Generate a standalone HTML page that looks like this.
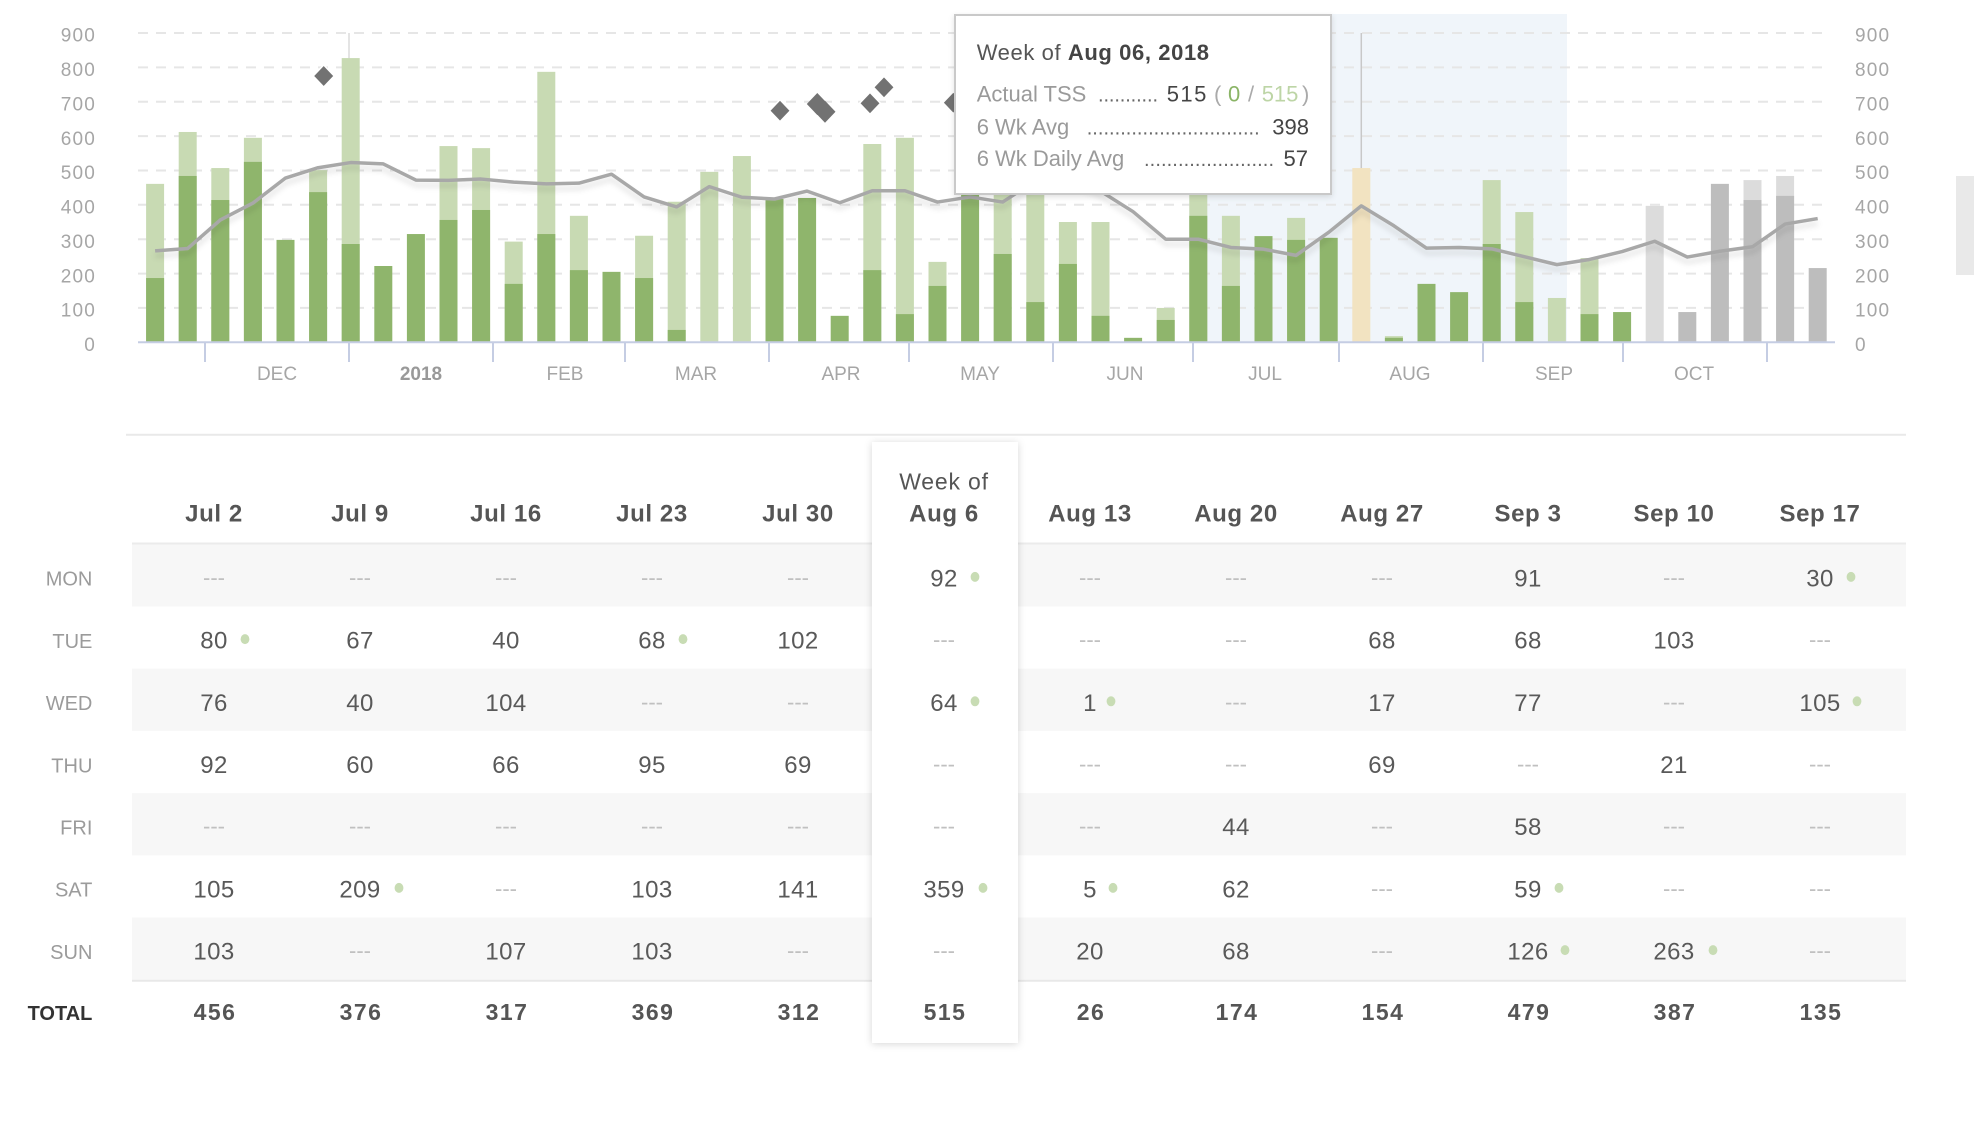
<!DOCTYPE html>
<html><head><meta charset="utf-8"><style>
html,body{margin:0;padding:0;background:#fff;}
svg{display:block;font-family:"Liberation Sans",sans-serif;}
</style></head><body>
<svg width="1974" height="1146" viewBox="0 0 1974 1146" xmlns="http://www.w3.org/2000/svg">
<defs>
<filter id="lsh" x="-5%" y="-50%" width="110%" height="200%"><feDropShadow dx="0" dy="5" stdDeviation="3" flood-color="#000" flood-opacity="0.12"/></filter>
<filter id="tsh" x="-10%" y="-10%" width="120%" height="130%"><feDropShadow dx="0" dy="2" stdDeviation="3" flood-color="#000" flood-opacity="0.12"/></filter>
<filter id="csh" x="-20%" y="-5%" width="140%" height="110%"><feDropShadow dx="0" dy="1" stdDeviation="4" flood-color="#000" flood-opacity="0.16"/></filter>
</defs>

<!-- shaded range -->
<rect x="1189" y="14" width="378" height="328.3" fill="#f0f5fa"/>

<!-- gridlines -->
<g stroke="#e6e6e6" stroke-width="2" stroke-dasharray="10 8">
<line x1="138" x2="1829" y1="307.9" y2="307.9"/>
<line x1="138" x2="1829" y1="273.6" y2="273.6"/>
<line x1="138" x2="1829" y1="239.2" y2="239.2"/>
<line x1="138" x2="1829" y1="204.8" y2="204.8"/>
<line x1="138" x2="1829" y1="170.5" y2="170.5"/>
<line x1="138" x2="1829" y1="136.1" y2="136.1"/>
<line x1="138" x2="1829" y1="101.7" y2="101.7"/>
<line x1="138" x2="1829" y1="67.4" y2="67.4"/>
<line x1="138" x2="1829" y1="33" y2="33"/>
</g>

<!-- year line & hover line -->
<line x1="349" x2="349" y1="33" y2="342" stroke="#dcdcdc" stroke-width="1.5"/>
<line x1="1361.3" x2="1361.3" y1="33" y2="170" stroke="#c8c8c8" stroke-width="1.5"/>

<!-- bars -->
<g transform="matrix(1 0 0 -0.34367 0 342.3)">
<g fill="#c8dab3">
<rect x="146.1" y="0" width="18" height="461"/>
<rect x="178.7" y="0" width="18" height="612"/>
<rect x="211.3" y="0" width="18" height="507"/>
<rect x="243.9" y="0" width="18" height="595"/>
<rect x="309.1" y="0" width="18" height="501"/>
<rect x="341.7" y="0" width="18" height="827"/>
<rect x="439.5" y="0" width="18" height="571"/>
<rect x="472.1" y="0" width="18" height="565"/>
<rect x="504.7" y="0" width="18" height="293"/>
<rect x="537.3" y="0" width="18" height="787"/>
<rect x="569.9" y="0" width="18" height="368"/>
<rect x="635.1" y="0" width="18" height="310"/>
<rect x="667.7" y="0" width="18" height="409"/>
<rect x="700.3" y="0" width="18" height="496"/>
<rect x="732.9" y="0" width="18" height="542"/>
<rect x="863.3" y="0" width="18" height="577"/>
<rect x="895.9" y="0" width="18" height="595"/>
<rect x="928.5" y="0" width="18" height="234"/>
<rect x="993.7" y="0" width="18" height="470"/>
<rect x="1026.3" y="0" width="18" height="490"/>
<rect x="1058.9" y="0" width="18" height="350"/>
<rect x="1091.5" y="0" width="18" height="350"/>
<rect x="1156.7" y="0" width="18" height="100"/>
<rect x="1189.3" y="0" width="18" height="450"/>
<rect x="1221.9" y="0" width="18" height="368"/>
<rect x="1287.1" y="0" width="18" height="362"/>
<rect x="1384.9" y="0" width="18" height="18"/>
<rect x="1482.7" y="0" width="18" height="472"/>
<rect x="1515.3" y="0" width="18" height="379"/>
<rect x="1547.9" y="0" width="18" height="129"/>
<rect x="1580.5" y="0" width="18" height="245"/>
</g>
<g fill="#8fb56c">
<rect x="146.1" y="0" width="18" height="187"/>
<rect x="178.7" y="0" width="18" height="484"/>
<rect x="211.3" y="0" width="18" height="414"/>
<rect x="243.9" y="0" width="18" height="525"/>
<rect x="276.5" y="0" width="18" height="298"/>
<rect x="309.1" y="0" width="18" height="437"/>
<rect x="341.7" y="0" width="18" height="286"/>
<rect x="374.3" y="0" width="18" height="222"/>
<rect x="406.9" y="0" width="18" height="315"/>
<rect x="439.5" y="0" width="18" height="356"/>
<rect x="472.1" y="0" width="18" height="385"/>
<rect x="504.7" y="0" width="18" height="170"/>
<rect x="537.3" y="0" width="18" height="315"/>
<rect x="569.9" y="0" width="18" height="210"/>
<rect x="602.5" y="0" width="18" height="205"/>
<rect x="635.1" y="0" width="18" height="187"/>
<rect x="667.7" y="0" width="18" height="36"/>
<rect x="765.5" y="0" width="18" height="417"/>
<rect x="798.1" y="0" width="18" height="420"/>
<rect x="830.7" y="0" width="18" height="77"/>
<rect x="863.3" y="0" width="18" height="210"/>
<rect x="895.9" y="0" width="18" height="82"/>
<rect x="928.5" y="0" width="18" height="164"/>
<rect x="961.1" y="0" width="18" height="460"/>
<rect x="993.7" y="0" width="18" height="257"/>
<rect x="1026.3" y="0" width="18" height="117"/>
<rect x="1058.9" y="0" width="18" height="228"/>
<rect x="1091.5" y="0" width="18" height="77"/>
<rect x="1124.1" y="0" width="18" height="13"/>
<rect x="1156.7" y="0" width="18" height="65"/>
<rect x="1189.3" y="0" width="18" height="368"/>
<rect x="1221.9" y="0" width="18" height="164"/>
<rect x="1254.5" y="0" width="18" height="309"/>
<rect x="1287.1" y="0" width="18" height="298"/>
<rect x="1319.7" y="0" width="18" height="304"/>
<rect x="1384.9" y="0" width="18" height="13"/>
<rect x="1417.5" y="0" width="18" height="170"/>
<rect x="1450.1" y="0" width="18" height="146"/>
<rect x="1482.7" y="0" width="18" height="286"/>
<rect x="1515.3" y="0" width="18" height="117"/>
<rect x="1580.5" y="0" width="18" height="82"/>
<rect x="1613.1" y="0" width="18" height="88"/>
</g>
<rect x="1352.3" y="0" width="18" height="507" fill="#f2e3c1"/>
<g fill="#dcdcdc">
<rect x="1645.7" y="0" width="18" height="397"/>
<rect x="1743.5" y="0" width="18" height="472"/>
<rect x="1776.1" y="0" width="18" height="484"/>
</g>
<g fill="#bdbdbd">
<rect x="1678.3" y="0" width="18" height="88"/>
<rect x="1710.9" y="0" width="18" height="461"/>
<rect x="1743.5" y="0" width="18" height="414"/>
<rect x="1776.1" y="0" width="18" height="426"/>
<rect x="1808.7" y="0" width="18" height="216"/>
</g>
</g>

<!-- axis -->
<line x1="138" x2="1835" y1="342.3" y2="342.3" stroke="#c5cde3" stroke-width="2"/>
<g stroke="#c5cde3" stroke-width="2">
<line x1="205" x2="205" y1="342" y2="362"/>
<line x1="349" x2="349" y1="342" y2="362"/>
<line x1="493" x2="493" y1="342" y2="362"/>
<line x1="625" x2="625" y1="342" y2="362"/>
<line x1="769" x2="769" y1="342" y2="362"/>
<line x1="909" x2="909" y1="342" y2="362"/>
<line x1="1053" x2="1053" y1="342" y2="362"/>
<line x1="1193" x2="1193" y1="342" y2="362"/>
<line x1="1339" x2="1339" y1="342" y2="362"/>
<line x1="1483" x2="1483" y1="342" y2="362"/>
<line x1="1623" x2="1623" y1="342" y2="362"/>
<line x1="1767" x2="1767" y1="342" y2="362"/>
</g>

<!-- average line -->
<g filter="url(#lsh)">
<g transform="matrix(1 0 0 -0.34367 0 342.3)">
<polyline fill="none" stroke="#a8a8a8" stroke-width="3.5" stroke-linejoin="round" vector-effect="non-scaling-stroke" points="155.1,266 187.7,273 220.3,356 252.9,405 285.5,478 318.1,508 350.7,523 383.3,519 415.9,472 448.5,471 481.1,475 513.7,466 546.3,461 578.9,463 611.5,489 644.1,423 676.7,394 709.3,453 741.9,422 774.5,417 807.1,440 839.7,406 872.3,441 904.9,441 937.5,408 970.1,423 1002.7,408 1035.3,470 1067.9,480 1100.5,440 1133.1,380 1165.7,300 1198.3,300 1230.9,276 1263.5,271 1296.1,253 1328.7,320 1361.3,397 1393.9,339 1426.5,274 1459.1,276 1491.7,272 1524.3,249 1556.9,226 1589.5,241 1622.1,264 1654.7,294 1687.3,248 1719.9,265 1752.5,278 1785.1,344 1817.7,360"/>
</g>
</g>

<!-- diamonds -->
<g fill="#727272">
<polygon points="817.3,93 827.8,104 817.3,115 806.8,104"/>
<polygon points="825,100.7 835.5,111.7 825,122.7 814.5,111.7"/>
</g>
<g fill="#727272" stroke="#fff" stroke-width="1.5">
<polygon points="323.7,65 334.2,76 323.7,87 313.2,76"/>
<polygon points="780,99.7 790.5,110.7 780,121.7 769.5,110.7"/>
<polygon points="870,92.3 880.5,103.3 870,114.3 859.5,103.3"/>
<polygon points="884,76.3 894.5,87.3 884,98.3 873.5,87.3"/>
<polygon points="953.3,91.7 963.8,102.7 953.3,113.7 942.8,102.7"/>
</g>

<!-- y labels -->
<g font-size="19" fill="#a6a6a6" letter-spacing="1.2">
<g text-anchor="end">
<text x="96" y="351">0</text>
<text x="96" y="316.6">100</text>
<text x="96" y="282.3">200</text>
<text x="96" y="247.9">300</text>
<text x="96" y="213.5">400</text>
<text x="96" y="179.2">500</text>
<text x="96" y="144.8">600</text>
<text x="96" y="110.4">700</text>
<text x="96" y="76.1">800</text>
<text x="96" y="41.7">900</text>
</g>
<text x="1855" y="351">0</text>
<text x="1855" y="316.6">100</text>
<text x="1855" y="282.3">200</text>
<text x="1855" y="247.9">300</text>
<text x="1855" y="213.5">400</text>
<text x="1855" y="179.2">500</text>
<text x="1855" y="144.8">600</text>
<text x="1855" y="110.4">700</text>
<text x="1855" y="76.1">800</text>
<text x="1855" y="41.7">900</text>
</g>

<!-- month labels -->
<g font-size="19" fill="#a6a6a6" text-anchor="middle">
<text x="277" y="380">DEC</text>
<text x="421" y="380" font-weight="bold" fill="#999">2018</text>
<text x="565" y="380">FEB</text>
<text x="696" y="380">MAR</text>
<text x="841" y="380">APR</text>
<text x="980" y="380">MAY</text>
<text x="1125" y="380">JUN</text>
<text x="1265" y="380">JUL</text>
<text x="1410" y="380">AUG</text>
<text x="1554" y="380">SEP</text>
<text x="1694" y="380">OCT</text>
</g>

<!-- tooltip -->
<rect x="955" y="15" width="376" height="179" fill="#fff" stroke="#c9c9c9" stroke-width="2" filter="url(#tsh)"/>
<text x="976.7" y="60" font-size="22" letter-spacing="0.6" fill="#555">Week of <tspan font-weight="bold" fill="#444">Aug 06, 2018</tspan></text>
<g font-size="22">
<text x="976.7" y="101.7" fill="#9a9a9a">Actual TSS</text>
<text x="1098" y="101.7" font-size="20" fill="#666" textLength="60" lengthAdjust="spacing">...........</text>
<text x="1166.7" y="101.7" fill="#444" letter-spacing="1.5">515</text>
<text x="1214" y="101.7" fill="#aaa">(</text>
<text x="1228" y="101.7" fill="#8ab466">0</text>
<text x="1248" y="101.7" fill="#aaa">/</text>
<text x="1261.7" y="101.7" fill="#bdd5a6">515</text>
<text x="1302" y="101.7" fill="#aaa">)</text>

<text x="976.7" y="134.3" fill="#9a9a9a">6 Wk Avg</text>
<text x="1086.7" y="134.3" font-size="20" fill="#666" textLength="173" lengthAdjust="spacing">...............................</text>
<text x="1309" y="134.3" fill="#444" text-anchor="end">398</text>

<text x="976.7" y="166" fill="#9a9a9a">6 Wk Daily Avg</text>
<text x="1144" y="166" font-size="20" fill="#666" textLength="130" lengthAdjust="spacing">.......................</text>
<text x="1308" y="166" fill="#444" text-anchor="end">57</text>
</g>

<!-- scrollbar-like block -->
<rect x="1956" y="176" width="18" height="99" fill="#e9e9e9"/>

<!-- ===== TABLE ===== -->
<line x1="126" x2="1906" y1="434.7" y2="434.7" stroke="#e9e9e9" stroke-width="2"/>

<g fill="#f7f7f7">
<rect x="132" y="544.3" width="1774" height="62.2"/>
<rect x="132" y="668.7" width="1774" height="62.2"/>
<rect x="132" y="793.1" width="1774" height="62.2"/>
<rect x="132" y="917.5" width="1774" height="62.2"/>
</g>
<line x1="132" x2="1906" y1="543.5" y2="543.5" stroke="#ebebeb" stroke-width="2"/>
<line x1="132" x2="1906" y1="980.7" y2="980.7" stroke="#e8e8e8" stroke-width="2"/>

<!-- highlighted column -->
<rect x="872" y="442" width="146" height="601" fill="#fff" filter="url(#csh)"/>

<!-- header -->
<g font-size="24" font-weight="bold" fill="#555" text-anchor="middle" letter-spacing="0.6">
<text x="214" y="521.7">Jul 2</text>
<text x="360" y="521.7">Jul 9</text>
<text x="506" y="521.7">Jul 16</text>
<text x="652" y="521.7">Jul 23</text>
<text x="798" y="521.7">Jul 30</text>
<text x="944" y="521.7">Aug 6</text>
<text x="1090" y="521.7">Aug 13</text>
<text x="1236" y="521.7">Aug 20</text>
<text x="1382" y="521.7">Aug 27</text>
<text x="1528" y="521.7">Sep 3</text>
<text x="1674" y="521.7">Sep 10</text>
<text x="1820" y="521.7">Sep 17</text>
</g>
<text x="944" y="489.3" font-size="23" fill="#555" text-anchor="middle" letter-spacing="0.8">Week of</text>

<!-- day labels -->
<g font-size="20" fill="#9b9b9b" text-anchor="end">
<text x="92.4" y="585.7">MON</text>
<text x="92.4" y="647.9">TUE</text>
<text x="92.4" y="710.1">WED</text>
<text x="92.4" y="772.3">THU</text>
<text x="92.4" y="834.5">FRI</text>
<text x="92.4" y="896.7">SAT</text>
<text x="92.4" y="958.9">SUN</text>
</g>
<text x="92.4" y="1020" font-size="20" font-weight="bold" fill="#333" text-anchor="end">TOTAL</text>

<!-- dashes -->
<g font-size="22" fill="#c0c0c0" text-anchor="middle">
<text x="214" y="584.9">---</text><text x="360" y="584.9">---</text><text x="506" y="584.9">---</text><text x="652" y="584.9">---</text><text x="798" y="584.9">---</text><text x="1090" y="584.9">---</text><text x="1236" y="584.9">---</text><text x="1382" y="584.9">---</text><text x="1674" y="584.9">---</text>
<text x="944" y="647.1">---</text><text x="1090" y="647.1">---</text><text x="1236" y="647.1">---</text><text x="1820" y="647.1">---</text>
<text x="652" y="709.3">---</text><text x="798" y="709.3">---</text><text x="1236" y="709.3">---</text><text x="1674" y="709.3">---</text>
<text x="944" y="771.5">---</text><text x="1090" y="771.5">---</text><text x="1236" y="771.5">---</text><text x="1528" y="771.5">---</text><text x="1820" y="771.5">---</text>
<text x="214" y="833.7">---</text><text x="360" y="833.7">---</text><text x="506" y="833.7">---</text><text x="652" y="833.7">---</text><text x="798" y="833.7">---</text><text x="944" y="833.7">---</text><text x="1090" y="833.7">---</text><text x="1382" y="833.7">---</text><text x="1674" y="833.7">---</text><text x="1820" y="833.7">---</text>
<text x="506" y="895.9">---</text><text x="1382" y="895.9">---</text><text x="1674" y="895.9">---</text><text x="1820" y="895.9">---</text>
<text x="360" y="958.1">---</text><text x="798" y="958.1">---</text><text x="944" y="958.1">---</text><text x="1382" y="958.1">---</text><text x="1820" y="958.1">---</text>
</g>

<!-- values -->
<g font-size="24" fill="#595959" text-anchor="middle" letter-spacing="0.4">
<text x="944" y="586.4">92</text><text x="1528" y="586.4">91</text><text x="1820" y="586.4">30</text>
<text x="214" y="648.6">80</text><text x="360" y="648.6">67</text><text x="506" y="648.6">40</text><text x="652" y="648.6">68</text><text x="798" y="648.6">102</text><text x="1382" y="648.6">68</text><text x="1528" y="648.6">68</text><text x="1674" y="648.6">103</text>
<text x="214" y="710.8">76</text><text x="360" y="710.8">40</text><text x="506" y="710.8">104</text><text x="944" y="710.8">64</text><text x="1090" y="710.8">1</text><text x="1382" y="710.8">17</text><text x="1528" y="710.8">77</text><text x="1820" y="710.8">105</text>
<text x="214" y="773">92</text><text x="360" y="773">60</text><text x="506" y="773">66</text><text x="652" y="773">95</text><text x="798" y="773">69</text><text x="1382" y="773">69</text><text x="1674" y="773">21</text>
<text x="1236" y="835.2">44</text><text x="1528" y="835.2">58</text>
<text x="214" y="897.4">105</text><text x="360" y="897.4">209</text><text x="652" y="897.4">103</text><text x="798" y="897.4">141</text><text x="944" y="897.4">359</text><text x="1090" y="897.4">5</text><text x="1236" y="897.4">62</text><text x="1528" y="897.4">59</text>
<text x="214" y="959.6">103</text><text x="506" y="959.6">107</text><text x="652" y="959.6">103</text><text x="1090" y="959.6">20</text><text x="1236" y="959.6">68</text><text x="1528" y="959.6">126</text><text x="1674" y="959.6">263</text>
</g>

<!-- dots -->
<g fill="#c8dcb4">
<ellipse cx="975" cy="576.9" rx="4.4" ry="5"/>
<ellipse cx="1851" cy="576.9" rx="4.4" ry="5"/>
<ellipse cx="245" cy="639.1" rx="4.4" ry="5"/>
<ellipse cx="683" cy="639.1" rx="4.4" ry="5"/>
<ellipse cx="975" cy="701.3" rx="4.4" ry="5"/>
<ellipse cx="1111" cy="701.3" rx="4.4" ry="5"/>
<ellipse cx="1857" cy="701.3" rx="4.4" ry="5"/>
<ellipse cx="399" cy="887.9" rx="4.4" ry="5"/>
<ellipse cx="983" cy="887.9" rx="4.4" ry="5"/>
<ellipse cx="1113" cy="887.9" rx="4.4" ry="5"/>
<ellipse cx="1559" cy="887.9" rx="4.4" ry="5"/>
<ellipse cx="1565" cy="950.1" rx="4.4" ry="5"/>
<ellipse cx="1713" cy="950.1" rx="4.4" ry="5"/>
</g>

<!-- totals -->
<g font-size="23" font-weight="bold" fill="#555" text-anchor="middle" letter-spacing="1.5">
<text x="215" y="1020">456</text>
<text x="361" y="1020">376</text>
<text x="507" y="1020">317</text>
<text x="653" y="1020">369</text>
<text x="799" y="1020">312</text>
<text x="945" y="1020">515</text>
<text x="1091" y="1020">26</text>
<text x="1237" y="1020">174</text>
<text x="1383" y="1020">154</text>
<text x="1529" y="1020">479</text>
<text x="1675" y="1020">387</text>
<text x="1821" y="1020">135</text>
</g>
</svg>
</body></html>
